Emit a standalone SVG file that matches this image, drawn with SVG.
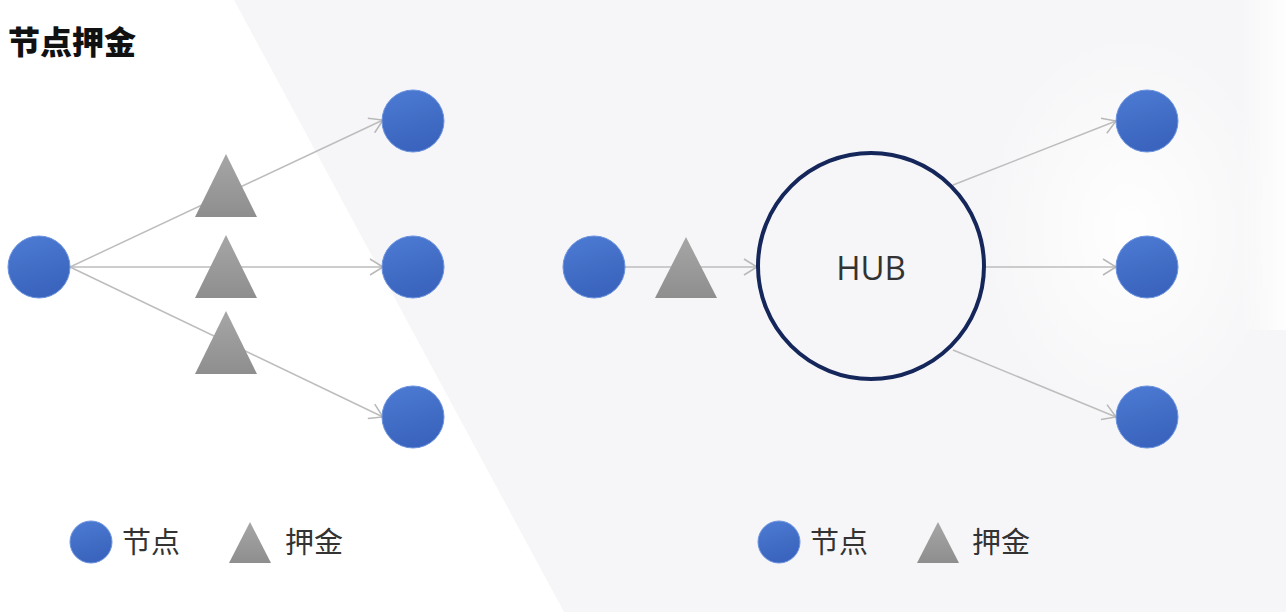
<svg xmlns="http://www.w3.org/2000/svg" width="1286" height="612" viewBox="0 0 1286 612">
<defs>
<linearGradient id="gBlue" x1="0" y1="0" x2="0.3" y2="1">
<stop offset="0" stop-color="#4d7bd3"/>
<stop offset="1" stop-color="#3a64bd"/>
</linearGradient>
<linearGradient id="gGray" x1="0" y1="0" x2="0" y2="1">
<stop offset="0" stop-color="#a6a6a6"/>
<stop offset="1" stop-color="#8e8e8e"/>
</linearGradient>
<radialGradient id="gGlow" cx="0.5" cy="0.5" r="0.5">
<stop offset="0" stop-color="#ffffff" stop-opacity="0.95"/>
<stop offset="1" stop-color="#ffffff" stop-opacity="0"/>
</radialGradient>
<linearGradient id="gEdge" x1="0" y1="0" x2="1" y2="0">
<stop offset="0" stop-color="#ffffff" stop-opacity="0"/>
<stop offset="1" stop-color="#ffffff" stop-opacity="0.9"/>
</linearGradient>
<marker id="arr" markerWidth="16" markerHeight="18" refX="14" refY="9" orient="auto" markerUnits="userSpaceOnUse">
<path d="M1,1 L14,9 L1,17" fill="none" stroke="#b8b8b8" stroke-width="1.5"/>
</marker>
<style>
.node{fill:url(#gBlue);stroke:#6d94e0;stroke-width:1}
.dep{fill:url(#gGray)}
.conn{stroke:#bdbdbd;stroke-width:1.5;fill:none;marker-end:url(#arr)}
.lbl{font-family:"Noto Sans CJK SC","Noto Sans",sans-serif;font-size:29px;fill:#333333}
</style>
</defs>
<rect x="0" y="0" width="1286" height="612" fill="#f6f6f8"/>
<polygon points="0,0 234,0 564,612 0,612" fill="#ffffff"/>
<ellipse cx="1130" cy="230" rx="150" ry="200" fill="url(#gGlow)"/>
<rect x="1240" y="0" width="46" height="330" fill="url(#gEdge)"/>

<text x="8" y="54" font-family="'Noto Sans CJK SC',sans-serif" font-weight="900" font-size="32" fill="#111111">节点押金</text>

<g id="connectors">
<line class="conn" x1="70" y1="267" x2="383" y2="120"/>
<line class="conn" x1="70" y1="267" x2="383" y2="267"/>
<line class="conn" x1="70" y1="267" x2="383" y2="417"/>
<line class="conn" x1="625" y1="267" x2="757" y2="267"/>
<line class="conn" x1="953" y1="185" x2="1116" y2="121"/>
<line class="conn" x1="986" y1="267" x2="1116" y2="267"/>
<line class="conn" x1="953" y1="350" x2="1116" y2="417"/>
</g>

<g id="left-source"><circle class="node" cx="39" cy="267" r="31"/></g>
<g id="left-target-1"><circle class="node" cx="413" cy="121" r="31"/></g>
<g id="left-target-2"><circle class="node" cx="413" cy="267" r="31"/></g>
<g id="left-target-3"><circle class="node" cx="413" cy="417" r="31"/></g>
<g id="left-deposit-1"><polygon class="dep" points="226,154 257,217 195,217"/></g>
<g id="left-deposit-2"><polygon class="dep" points="226,235 257,298 195,298"/></g>
<g id="left-deposit-3"><polygon class="dep" points="226,311 257,374 195,374"/></g>

<g id="right-source"><circle class="node" cx="594" cy="267" r="31"/></g>
<g id="right-deposit"><polygon class="dep" points="686,237 717,298 655,298"/></g>
<g id="hub">
<circle cx="871" cy="266" r="113" fill="none" stroke="#14265a" stroke-width="4"/>
<text x="871" y="280" text-anchor="middle" font-family="'Open Sans','Noto Sans',sans-serif" font-size="33" fill="#333333">HUB</text>
</g>
<g id="right-target-1"><circle class="node" cx="1147" cy="121" r="31"/></g>
<g id="right-target-2"><circle class="node" cx="1147" cy="267" r="31"/></g>
<g id="right-target-3"><circle class="node" cx="1147" cy="417" r="31"/></g>

<g id="legend-left">
<circle class="node" cx="91" cy="542" r="21"/>
<text class="lbl" x="122" y="553">节点</text>
<polygon class="dep" points="250,522 271,563 229,563"/>
<text class="lbl" x="285" y="553">押金</text>
</g>
<g id="legend-right">
<circle class="node" cx="779" cy="542" r="21"/>
<text class="lbl" x="810" y="553">节点</text>
<polygon class="dep" points="938,522 959,563 917,563"/>
<text class="lbl" x="972" y="553">押金</text>
</g>
</svg>
